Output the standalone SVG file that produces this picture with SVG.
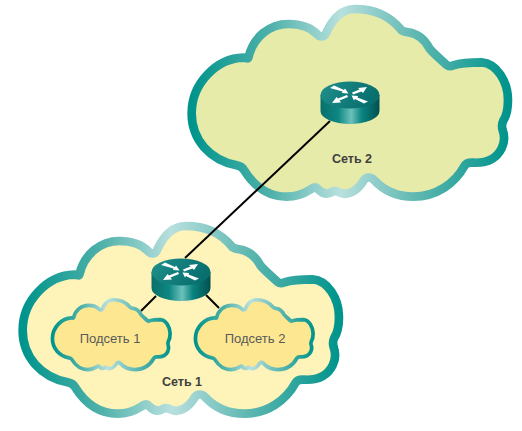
<svg xmlns="http://www.w3.org/2000/svg" xmlns:xlink="http://www.w3.org/1999/xlink" width="522" height="431" viewBox="0 0 522 431">
<style>
.edge{stroke:#000;stroke-width:2;fill:none}
.big{stroke-width:26;stroke-linejoin:round}
.small{stroke-width:30;stroke-linejoin:round}
text{font-family:"Liberation Sans",Arial,sans-serif;text-anchor:middle}
.net{font-size:12.500px;font-weight:bold;fill:#404040}
.sub{font-size:13px;fill:#58595b}
</style>
<defs>
<linearGradient id="ring" x1="0" y1="0" x2="1" y2="0">
<stop offset="0" stop-color="#00948c"/><stop offset="0.25" stop-color="#4fb1aa"/><stop offset="0.47" stop-color="#b8e0de"/><stop offset="0.72" stop-color="#5cb6b0"/><stop offset="1" stop-color="#00948c"/>
</linearGradient>
<linearGradient id="side" x1="0" y1="0" x2="1" y2="0">
<stop offset="0" stop-color="#0a6f6c"/><stop offset="0.3" stop-color="#0d8783"/><stop offset="0.52" stop-color="#6cc0ba"/><stop offset="0.7" stop-color="#0a8480"/><stop offset="1" stop-color="#034f50"/>
</linearGradient>
<linearGradient id="top" x1="0" y1="0" x2="1" y2="0.3">
<stop offset="0" stop-color="#1f8f8b"/><stop offset="1" stop-color="#086f6e"/>
</linearGradient>
<path id="cloud" d="M205 173C220 110 270 72 325 72C365 72 395 85 412 103C420 112 432 112 438 100C458 55 485 27 525 27C590 27 635 55 662 88C668 95 675 95 685 97C715 102 735 120 748 145C765 165 785 180 800 195C806 200 812 200 820 196C845 188 875 187 905 187C950 190 984 245 984 300C984 325 978 350 970 362C965 372 965 380 968 390C975 410 975 425 965 445C950 475 920 490 880 488C866 487 858 490 854 497C825 550 770 590 700 590C650 590 610 570 582 540C572 530 560 530 552 540C535 570 505 590 480 578C470 572 460 572 452 578C438 585 425 578 415 568C408 560 400 562 392 568C370 582 345 590 320 590C260 590 220 555 192 510C186 500 180 498 170 496C90 480 35 420 35 340C35 250 110 175 190 173C198 173 203 178 205 173Z"/>
<g id="router">
<path d="M-29.500 0V16A29.500 13 0 0 0 29.500 16V0Z" fill="url(#side)"/>
<ellipse rx="29.500" ry="13.500" fill="url(#top)"/>
<g fill="#fff">
<path d="M-20 -7L-16 -9.500L-6 -5L-5 -6.500L-1.500 -1.500L-8 -2L-7.500 -3.500Z"/>
<path d="M17 -8L8 -7L9.500 -5.500L2 -2.500L3 -0.500L11.500 -3.500L13 -2Z"/>
<path d="M-18 8L-9 7.500L-10.500 5.500L-2 2L-3 0L-12 3.500L-13.500 2Z"/>
<path d="M18 6.500L14 8.500L5 4L4 5.500L1.500 0.500L8 1L7.500 2.500Z"/>
</g>
</g>
</defs>
<g id="network-2"><use href="#cloud" transform="translate(180 0) scale(.3333)" class="big" fill="#e7ebaa" stroke="url(#ring)"/><text class="net" x="352" y="163">Сеть 2</text></g>
<g id="network-1"><use href="#cloud" transform="translate(11 217) scale(.3333)" class="big" fill="#fef3b9" stroke="url(#ring)"/><text class="net" x="182" y="386">Сеть 1</text></g>
<g id="connectors">
<line class="edge" x1="330" y1="121" x2="185" y2="258"/>
<line class="edge" x1="156" y1="296" x2="141" y2="311"/>
<line class="edge" x1="206" y1="295" x2="219" y2="308"/>
</g>
<g id="subnet-1"><use href="#cloud" transform="translate(48.100 296.400) scale(.124)" class="small" fill="#fde791" stroke="url(#ring)"/><text class="sub" x="110" y="343">Подсеть 1</text></g>
<g id="subnet-2"><use href="#cloud" transform="translate(191.100 296.400) scale(.124)" class="small" fill="#fde791" stroke="url(#ring)"/><text class="sub" x="255" y="343">Подсеть 2</text></g>
<g id="router-2"><use href="#router" x="350" y="95"/></g>
<g id="router-1"><use href="#router" x="181" y="272"/></g>
</svg>
